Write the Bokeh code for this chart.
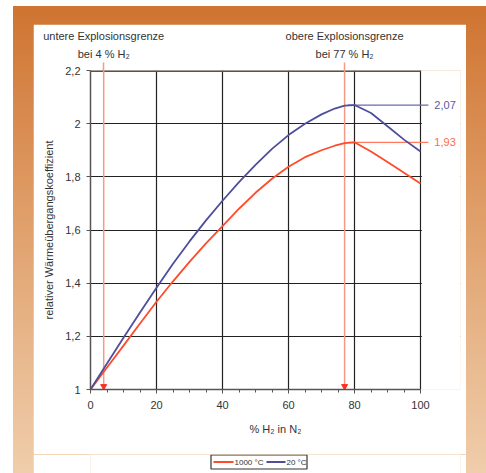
from bokeh.plotting import figure
from bokeh.models import FixedTicker, LinearAxis, Range1d, Label
from bokeh.core.properties import value
from bokeh.layouts import column
from bokeh.embed import file_html
from bokeh.resources import INLINE

# ---- data ----
h2_pct = [0, 5, 10, 15, 20, 25, 30, 35, 40, 45, 50, 55, 60, 65, 70, 74, 77, 80, 85, 90, 95, 100]
k_20 = [1.0, 1.098, 1.195, 1.29, 1.383, 1.473, 1.557, 1.636, 1.71, 1.78, 1.845, 1.905, 1.957, 2.0, 2.035, 2.057, 2.068, 2.07, 2.04, 1.99, 1.94, 1.895]
k_1000 = [1.0, 1.083, 1.165, 1.248, 1.33, 1.407, 1.48, 1.55, 1.615, 1.68, 1.74, 1.793, 1.838, 1.874, 1.90, 1.917, 1.927, 1.93, 1.895, 1.856, 1.815, 1.775]
x_ticks = [0, 20, 40, 60, 80, 100]
y_ticks = [1.0, 1.2, 1.4, 1.6, 1.8, 2.0, 2.2]
y_tick_labels = ["1", "1,2", "1,4", "1,6", "1,8", "2", "2,2"]
limits_x = [4, 77]
limit_titles = ["untere Explosionsgrenze", "obere Explosionsgrenze"]
limit_subtitles = ["bei 4 % H\u2082", "bei 77 % H\u2082"]
peak_x = 78
peak_20 = 2.07
peak_1000 = 1.93
peak_labels = ["2,07", "1,93"]
series_names = ["1000 °C", "20 °C"]

BLUE = "#4E4E9C"
RED = "#FF4B2B"
TXT = "#333333"
FRAME = "#555555"
FONT = "Liberation Sans"

X_MAX, Y_MIN, Y_MAX = 100, 1.0, 2.2
x_view_end = X_MAX * 370 / 330   # frame reaches past 100 to hold the peak captions

p = figure(width=433, height=430, output_backend="svg", toolbar_location=None,
           x_range=Range1d(0, x_view_end), y_range=Range1d(Y_MIN, Y_MAX),
           min_border_left=57, min_border_right=6, min_border_top=46, min_border_bottom=65)
p.margin = (18, 20, 0, 20)
p.background_fill_color = "white"
p.border_fill_color = "white"
p.outline_line_color = None

p.xaxis.ticker = FixedTicker(ticks=x_ticks, minor_ticks=list(range(0, 101, 5)))
p.xaxis.bounds = (0, X_MAX)
p.yaxis.ticker = FixedTicker(ticks=y_ticks, minor_ticks=[])
p.yaxis.major_label_overrides = {t: l for t, l in zip(y_ticks, y_tick_labels)}
for ax in (p.xaxis, p.yaxis):
    ax.axis_line_color = FRAME
    ax.axis_line_width = 1.5
    ax.major_tick_line_color = FRAME
    ax.minor_tick_line_color = FRAME
    ax.major_tick_in = 0
    ax.major_tick_out = 4
    ax.minor_tick_in = 0
    ax.minor_tick_out = 3
    ax.major_label_text_font = FONT
    ax.major_label_text_font_size = "11px"
    ax.major_label_text_color = TXT
    ax.axis_label_text_font = FONT
    ax.axis_label_text_font_size = "11px"
    ax.axis_label_text_font_style = "normal"
    ax.axis_label_text_color = TXT
p.yaxis.major_label_standoff = 6
p.xaxis.major_label_standoff = 7
p.xaxis.axis_label = "% H\u2082 in N\u2082"
p.xaxis.axis_label_standoff = 11
p.yaxis.axis_label = "relativer Wärmeübergangskoeffizient"
p.yaxis.axis_label_standoff = 7

p.xgrid.ticker = FixedTicker(ticks=x_ticks[1:])
p.ygrid.ticker = FixedTicker(ticks=y_ticks[1:-1])
p.grid.grid_line_color = "#222222"
p.grid.grid_line_width = 1.2

# explosion-limit captions above the frame (the axis ticks are the red lines' overhang)
limit_axis = LinearAxis(ticker=FixedTicker(ticks=limits_x, minor_ticks=[]),
                        major_label_overrides={x: t + "\n" + s for x, t, s in
                                               zip(limits_x, limit_titles, limit_subtitles)})
limit_axis.axis_line_color = None
limit_axis.minor_tick_line_color = None
limit_axis.major_tick_line_color = "#F79A85"
limit_axis.major_tick_line_width = 1.5
limit_axis.major_tick_in = 0
limit_axis.major_tick_out = 8
limit_axis.major_label_standoff = 3
limit_axis.major_label_text_font = FONT
limit_axis.major_label_text_font_size = "11px"
limit_axis.major_label_text_line_height = 1.5
limit_axis.major_label_text_color = TXT
p.add_layout(limit_axis, "above")

# blank out grid lines to the right of the chart box
p.quad(left=[X_MAX + 0.4], right=[x_view_end + 1], bottom=[Y_MIN], top=[Y_MAX],
       fill_color="white", line_color=None)
# top edge of the chart box
p.segment(x0=[0], y0=[Y_MAX], x1=[X_MAX], y1=[Y_MAX], line_color=FRAME, line_width=3)

# limit lines with arrow heads
p.segment(x0=limits_x, y0=[Y_MAX, Y_MAX], x1=limits_x, y1=[Y_MIN, Y_MIN],
          line_color="#F79A85", line_width=1.5)
p.scatter(x=limits_x, y=[1.012, 1.012], marker="inverted_triangle", size=6,
          fill_color="#FF3020", line_color="#FF3020")

# peak lines and captions
p.segment(x0=[peak_x, peak_x], y0=[peak_20, peak_1000], x1=[102.4, 102.4], y1=[peak_20, peak_1000],
          line_color=["#6A6AAA", "#FF7A5E"], line_width=1.2)
for val, lab, col in [(peak_20, peak_labels[0], "#5A5AA0"), (peak_1000, peak_labels[1], "#FF6A48")]:
    p.add_layout(Label(x=104.2, y=val, text=lab, text_font=FONT, text_font_size="11px",
                       text_color=col, text_baseline="middle", text_align="left"))

p.line(h2_pct, k_1000, line_color=RED, line_width=1.8)
p.line(h2_pct, k_20, line_color=BLUE, line_width=1.8)

# legend strip below the chart (same borders as the chart, pixel-unit ranges)
lg = figure(width=433, height=19, output_backend="svg", toolbar_location=None,
            x_range=Range1d(90, 460), y_range=Range1d(0, 19),
            x_axis_location=None, y_axis_location=None,
            min_border_left=57, min_border_right=6, min_border_top=0, min_border_bottom=0)
lg.margin = (0, 20, 0, 20)
lg.grid.visible = False
lg.outline_line_color = None
lg.background_fill_color = "white"
lg.border_fill_color = "white"
lg.quad(left=[210.5], right=[306.5], bottom=[4.5], top=[18.5],
        fill_color="white", line_color="#333333", line_width=1.2)
lg.segment(x0=[213, 266], y0=[11.5, 11.5], x1=[233, 285], y1=[11.5, 11.5],
           line_color=[RED, BLUE], line_width=1.8)
lg.text(x=[234, 286], y=[11.5, 11.5], text=series_names, text_font=value(FONT),
        text_font_size="8px", text_color=TXT, text_baseline="middle", text_align="left")

layout = column(p, lg, margin=(6, 0, 0, 13), width=473, height=467,
                styles={"background": "linear-gradient(180deg, #CF7431 0%, #DE9A63 40%, #E8B98E 75%, #F0CDAB 100%)"})

open("out.html", "w").write(file_html(layout, INLINE))
